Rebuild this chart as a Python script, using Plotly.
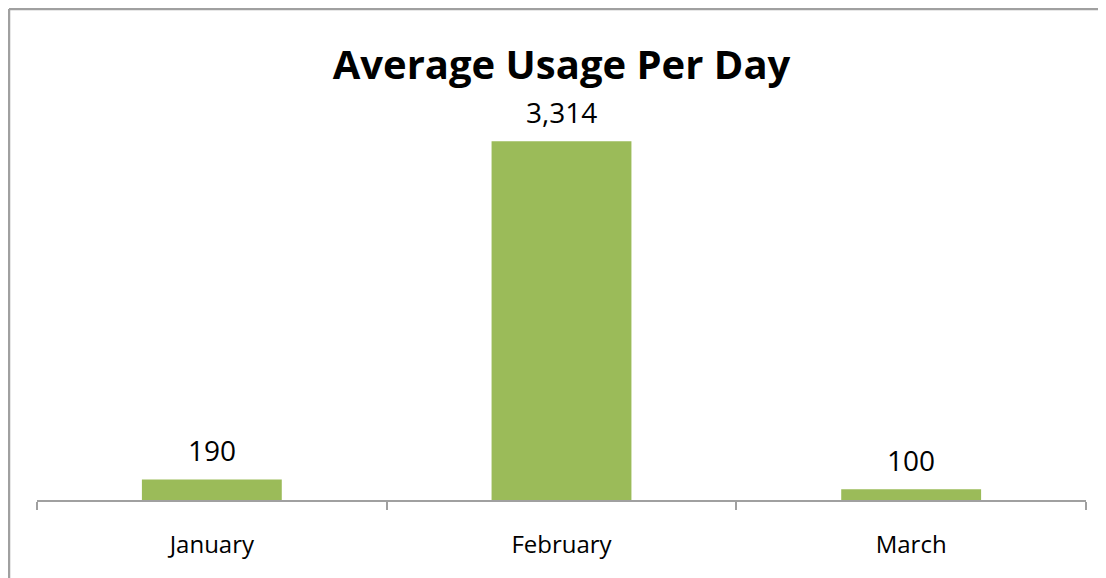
import plotly.graph_objects as go

months = ["January", "February", "March"]
usage = [190, 3314, 100]
title_text = "Average Usage Per Day"

W, H = 1106, 578
ml, mr, mt, mb = 29, 28, 113, 86

fig = go.Figure(go.Bar(
    x=months, y=usage,
    marker=dict(color="#9BBB59", line=dict(width=0)),
    width=0.4,
    hoverinfo="x+y",
))

for m, v in zip(months, usage):
    fig.add_annotation(x=m, y=v, text=f"{v:,}", showarrow=False,
                       yanchor="bottom", yshift=8,
                       font=dict(family="Open Sans", size=28, color="#000000"))

pw = W - ml - mr
ph = H - mt - mb
bx = (1 - ml) / pw
by = (H - mb - 1) / ph

fig.update_layout(
    width=W, height=H,
    margin=dict(l=ml, r=mr, t=mt, b=mb),
    paper_bgcolor="white", plot_bgcolor="white",
    showlegend=False,
    title=dict(text=f"<b>{title_text}</b>", x=0.5, xanchor="center",
               xref="paper", y=1 - 57 / H, yanchor="middle", yref="container",
               font=dict(family="Open Sans", size=40, color="#000000")),
    xaxis=dict(showline=True, linecolor="#A0A0A0", linewidth=2,
               ticks="outside", tickson="boundaries", ticklen=8,
               tickcolor="#A0A0A0", tickwidth=2,
               ticklabelstandoff=22,
               tickfont=dict(family="Open Sans", size=24, color="#000000"),
               showgrid=False, zeroline=False),
    yaxis=dict(range=[0, 3500], visible=False, showgrid=False, zeroline=False),
    shapes=[
        dict(type="line", xref="paper", yref="paper", x0=bx, x1=bx, y0=by, y1=-0.5,
             line=dict(color="#A0A0A0", width=2.5)),
        dict(type="line", xref="paper", yref="paper", x0=bx, x1=1.2, y0=by, y1=by,
             line=dict(color="#A0A0A0", width=2.5)),
    ],
)

fig.write_html("out.html")
